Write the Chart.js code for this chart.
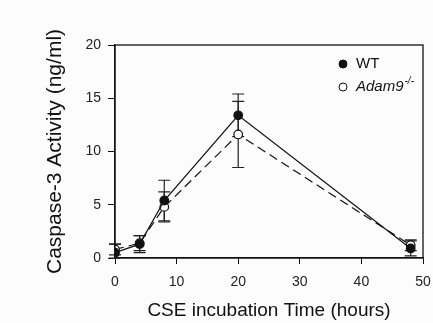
<!DOCTYPE html>
<html>
<head>
<meta charset="utf-8">
<script src="https://cdn.jsdelivr.net/npm/chart.js@4.4.1/dist/chart.umd.min.js"></script>
<style>
  html, body { margin: 0; padding: 0; background: #fcfcfc; }
  #wrap { width: 433px; height: 323px; }
</style>
</head>
<body>
<div id="wrap"><canvas id="chart" width="433" height="323"></canvas></div>
<script>
// incubation times (hours)
const times = [0, 4, 8, 20, 48];
// caspase-3 activity (ng/ml), mean and error
const wtValues = [0.5, 1.3, 5.4, 13.4, 0.9];
const wtErrors = [0.8, 0.8, 1.9, 2.0, 0.7];
const koValues = [0.8, 1.4, 4.8, 11.6, 1.2];
const koErrors = [0.5, 0.7, 1.4, 3.1, 0.5];
const xTicks = [0, 10, 20, 30, 40, 50];
const yTicks = [0, 5, 10, 15, 20];

const font = "'Liberation Sans', Arial, sans-serif";

const toPoints = (vals) => times.map((t, i) => ({ x: t, y: vals[i] }));

// error bars with caps, drawn under the markers
const errorBars = {
    id: 'errorBars',
    beforeDatasetsDraw(chart) {
        const { ctx, scales: { x, y } } = chart;
        ctx.save();
        ctx.strokeStyle = '#222';
        ctx.lineWidth = 1.2;
        chart.data.datasets.forEach((ds) => {
            ds.data.forEach((p, i) => {
                const err = ds.errors[i];
                const px = x.getPixelForValue(p.x);
                const top = y.getPixelForValue(p.y + err);
                const bot = y.getPixelForValue(Math.max(p.y - err, 0));
                ctx.beginPath();
                ctx.moveTo(px, top); ctx.lineTo(px, bot);
                ctx.moveTo(px - 6, top); ctx.lineTo(px + 6, top);
                ctx.moveTo(px - 6, bot); ctx.lineTo(px + 6, bot);
                ctx.stroke();
            });
        });
        ctx.restore();
    }
};

// box around plot + legend in upper right
const frameLegend = {
    id: 'frameLegend',
    afterDraw(chart) {
        const { ctx, chartArea: a } = chart;
        ctx.save();
        ctx.strokeStyle = '#111';
        ctx.lineWidth = 1.3;
        ctx.strokeRect(a.left, a.top, a.right - a.left, a.bottom - a.top);

        const lx = a.right - 80;
        let ly = a.top + 19;
        chart.data.datasets.forEach((ds) => {
            ctx.beginPath();
            ctx.arc(lx, ly, 4, 0, Math.PI * 2);
            ctx.fillStyle = ds.pointBackgroundColor;
            ctx.fill();
            ctx.lineWidth = 1;
            ctx.strokeStyle = '#111';
            ctx.stroke();
            ctx.fillStyle = '#111';
            ctx.textBaseline = 'middle';
            ctx.font = (ds.italic ? 'italic ' : '') + '15px ' + font;
            ctx.fillText(ds.label, lx + 13, ly);
            if (ds.sup) {
                const w = ctx.measureText(ds.label).width;
                ctx.font = 'italic 10px ' + font;
                ctx.fillText(ds.sup, lx + 13 + w + 1, ly - 6);
            }
            ly += 23;
        });
        ctx.restore();
    }
};

new Chart(document.getElementById('chart'), {
    type: 'scatter',
    data: {
        datasets: [
            {
                label: 'WT',
                data: toPoints(wtValues),
                errors: wtErrors,
                showLine: true,
                borderColor: '#111',
                borderWidth: 1.2,
                pointBackgroundColor: '#111',
                pointBorderColor: '#111',
                pointRadius: 4.3,
            },
            {
                label: 'Adam9',
                sup: '-/-',
                italic: true,
                data: toPoints(koValues),
                errors: koErrors,
                showLine: true,
                borderColor: '#111',
                borderWidth: 1.2,
                borderDash: [9, 5],
                pointBackgroundColor: '#ffffff',
                pointBorderColor: '#111',
                pointBorderWidth: 1.2,
                pointRadius: 4.3,
            },
        ]
    },
    options: {
        responsive: false,
        animation: false,
        layout: { padding: { top: 45, right: 10, left: 0, bottom: 0 } },
        plugins: {
            legend: { display: false },
            tooltip: { enabled: false },
        },
        scales: {
            x: {
                type: 'linear',
                min: 0,
                max: 50,
                afterFit: (s) => { s.height = 65; s.paddingLeft = 0; s.paddingRight = 0; },
                afterBuildTicks: (s) => { s.ticks = xTicks.map((v) => ({ value: v })); },
                grid: { display: true, drawOnChartArea: false, tickLength: 6, color: '#111' },
                border: { display: true, color: '#111', width: 1.3 },
                ticks: { color: '#222', padding: 10, font: { family: font, size: 14 } },
                title: {
                    display: true,
                    text: 'CSE incubation Time (hours)',
                    color: '#111',
                    font: { family: font, size: 19 },
                    padding: { top: 0, bottom: 1 },
                },
            },
            y: {
                min: 0,
                max: 20,
                afterFit: (s) => { s.width = 115; s.paddingTop = 0; s.paddingBottom = 0; },
                afterBuildTicks: (s) => { s.ticks = yTicks.map((v) => ({ value: v })); },
                grid: { display: true, drawOnChartArea: false, tickLength: 7, color: '#111' },
                border: { display: true, color: '#111', width: 1.3 },
                ticks: { color: '#222', padding: 7, font: { family: font, size: 14 } },
                title: {
                    display: true,
                    text: 'Caspase-3 Activity (ng/ml)',
                    color: '#111',
                    font: { family: font, size: 21 },
                    padding: { top: 43, bottom: 0 },
                },
            },
        }
    },
    plugins: [errorBars, frameLegend]
});
</script>
</body>
</html>
